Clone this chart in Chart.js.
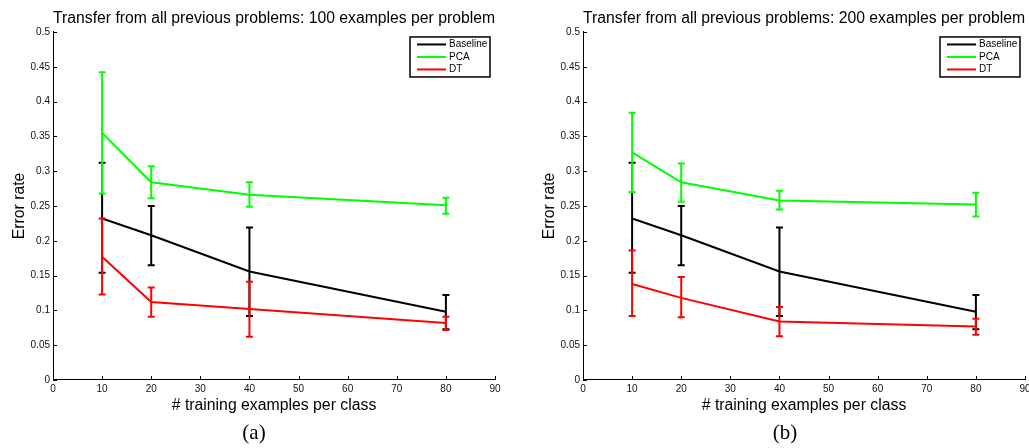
<!DOCTYPE html>
<html>
<head>
<meta charset="utf-8">
<script src="https://cdn.jsdelivr.net/npm/chart.js@4/dist/chart.umd.min.js"></script>
<style>
  body { margin: 0; background: #fff; overflow: hidden; width: 1029px; height: 448px; position: relative; }
  .panel { position: absolute; top: 0; }
  .caption { position: absolute; top: 420px; font-family: 'Liberation Serif', serif; font-size: 21px; color: #000; transform: translateX(-50%); }
</style>
</head>
<body>
<div class="panel" style="left:0"><canvas id="chartA" width="515" height="448"></canvas></div>
<div class="panel" style="left:515px"><canvas id="chartB" width="525" height="448"></canvas></div>
<div class="caption" style="left:254px">(a)</div>
<div class="caption" style="left:785px">(b)</div>
<script>
/* Data */

const trainingSizes = [10, 20, 40, 80];
const yTicks = [0, 0.05, 0.1, 0.15, 0.2, 0.25, 0.3, 0.35, 0.4, 0.45, 0.5];
const seriesNames = ['Baseline', 'PCA', 'DT'];

// baseline is the same in both panels
const baselineMean = [0.232, 0.208, 0.156, 0.098];
const baselineLow = [0.154, 0.165, 0.092, 0.073];
const baselineHigh = [0.312, 0.250, 0.219, 0.122];

// (a) 100 examples per problem
const pcaMeanA = [0.355, 0.284, 0.266, 0.251];
const pcaLowA = [0.268, 0.261, 0.249, 0.239];
const pcaHighA = [0.442, 0.307, 0.284, 0.262];
const dtMeanA = [0.177, 0.112, 0.102, 0.082];
const dtLowA = [0.123, 0.091, 0.062, 0.072];
const dtHighA = [0.232, 0.133, 0.141, 0.091];

// (b) 200 examples per problem
const pcaMeanB = [0.327, 0.284, 0.258, 0.252];
const pcaLowB = [0.270, 0.256, 0.245, 0.235];
const pcaHighB = [0.384, 0.311, 0.272, 0.269];
const dtMeanB = [0.138, 0.118, 0.084, 0.077];
const dtLowB = [0.092, 0.090, 0.063, 0.065];
const dtHighB = [0.186, 0.148, 0.105, 0.088];

const colors = ['#000000', '#00ff00', '#ff0000'];
const FONT = "'Liberation Sans', Arial, Helvetica, sans-serif";

/* Plugins */

const errorBars = {
    id: 'errorBars',
    afterDatasetDraw(chart, args) {
        const ds = chart.data.datasets[args.index];
        const xScale = chart.scales.x;
        const yScale = chart.scales.y;
        const ctx = chart.ctx;
        ctx.save();
        ctx.strokeStyle = ds.borderColor;
        ctx.lineWidth = 2;
        for (let i = 0; i < ds.data.length; i++) {
            const x = xScale.getPixelForValue(ds.data[i].x);
            const lo = yScale.getPixelForValue(ds.low[i]);
            const hi = yScale.getPixelForValue(ds.high[i]);
            ctx.beginPath();
            ctx.moveTo(x, lo); ctx.lineTo(x, hi);
            ctx.moveTo(x - 3.5, lo); ctx.lineTo(x + 3.5, lo);
            ctx.moveTo(x - 3.5, hi); ctx.lineTo(x + 3.5, hi);
            ctx.stroke();
        }
        ctx.restore();
    }
};

const matlabAxes = {
    id: 'matlabAxes',
    afterDraw(chart) {
        const ctx = chart.ctx;
        const area = chart.chartArea;
        const xScale = chart.scales.x;
        const yScale = chart.scales.y;
        ctx.save();
        // inward ticks
        ctx.strokeStyle = '#000';
        ctx.lineWidth = 1;
        ctx.beginPath();
        for (const t of xScale.ticks) {
            const x = Math.round(xScale.getPixelForValue(t.value)) + 0.5;
            ctx.moveTo(x, area.bottom); ctx.lineTo(x, area.bottom - 4);
        }
        for (const t of yScale.ticks) {
            const y = Math.round(yScale.getPixelForValue(t.value)) + 0.5;
            ctx.moveTo(area.left, y); ctx.lineTo(area.left + 4, y);
        }
        ctx.stroke();

        // legend box
        const w = 80, h = 40;
        const bx = area.right - 5 - w;
        const by = area.top + 5;
        ctx.fillStyle = '#fff';
        ctx.fillRect(bx, by, w, h);
        ctx.lineWidth = 1.5;
        ctx.strokeRect(bx, by, w, h);
        ctx.font = '10px ' + FONT;
        ctx.textBaseline = 'middle';
        chart.data.datasets.forEach((ds, i) => {
            const y = by + 7.5 + i * 12.5;
            ctx.strokeStyle = ds.borderColor;
            ctx.lineWidth = 2;
            ctx.beginPath();
            ctx.moveTo(bx + 7, y); ctx.lineTo(bx + 36, y);
            ctx.stroke();
            ctx.fillStyle = '#000';
            ctx.fillText(ds.label, bx + 39, y);
        });
        ctx.restore();
    }
};

/* Charts */

function makeDatasets(means, lows, highs) {
    return seriesNames.map((name, i) => ({
        label: name,
        data: trainingSizes.map((x, j) => ({ x: x, y: means[i][j] })),
        low: lows[i],
        high: highs[i],
        borderColor: colors[i],
        backgroundColor: colors[i],
        borderWidth: 2,
        pointRadius: 0,
        tension: 0,
        order: 2 - i
    }));
}

function initChart(canvasId, title, datasets, padLeft, padRight) {
    const ctx = document.getElementById(canvasId).getContext('2d');
    return new Chart(ctx, {
        type: 'line',
        data: { datasets: datasets },
        options: {
            responsive: false,
            animation: false,
            devicePixelRatio: 1,
            layout: { padding: { left: padLeft, right: padRight, top: 0, bottom: 28 } },
            plugins: {
                legend: { display: false },
                tooltip: { enabled: false },
                title: {
                    display: true,
                    text: title,
                    fullSize: false,
                    color: '#000',
                    font: { family: FONT, size: 15.8, weight: 'normal', lineHeight: 1.2 },
                    padding: { top: 9, bottom: 4 }
                }
            },
            scales: {
                x: {
                    type: 'linear',
                    min: 0,
                    max: 90,
                    ticks: { stepSize: 10, color: '#111', font: { family: FONT, size: 10 }, padding: 3, maxRotation: 0 },
                    grid: { display: false, drawTicks: false },
                    border: { display: true, color: '#000', width: 1 },
                    title: {
                        display: true,
                        text: '# training examples per class',
                        color: '#000',
                        font: { family: FONT, size: 15.8, lineHeight: 1.2 },
                        padding: { top: 0, bottom: 4.5 }
                    },
                    afterFit(scale) { scale.height = 40; }
                },
                y: {
                    min: 0,
                    max: 0.5,
                    afterBuildTicks(scale) { scale.ticks = yTicks.map(v => ({ value: v })); },
                    ticks: {
                        color: '#111',
                        font: { family: FONT, size: 10 },
                        padding: 3,
                        callback: v => String(+v.toFixed(2))
                    },
                    grid: { display: false, drawTicks: false },
                    border: { display: true, color: '#000', width: 1 },
                    title: {
                        display: true,
                        text: 'Error rate',
                        color: '#000',
                        font: { family: FONT, size: 15.8, lineHeight: 1.2 },
                        padding: { top: 10, bottom: 0 }
                    },
                    afterFit(scale) { scale.width = 53; }
                }
            }
        },
        plugins: [errorBars, matlabAxes]
    });
}

const app = () => {
    initChart('chartA', 'Transfer from all previous problems: 100 examples per problem',
        makeDatasets([baselineMean, pcaMeanA, dtMeanA], [baselineLow, pcaLowA, dtLowA], [baselineHigh, pcaHighA, dtHighA]),
        0, 20);
    initChart('chartB', 'Transfer from all previous problems: 200 examples per problem',
        makeDatasets([baselineMean, pcaMeanB, dtMeanB], [baselineLow, pcaLowB, dtLowB], [baselineHigh, pcaHighB, dtHighB]),
        15, 15);
};
app();
</script>
</body>
</html>
